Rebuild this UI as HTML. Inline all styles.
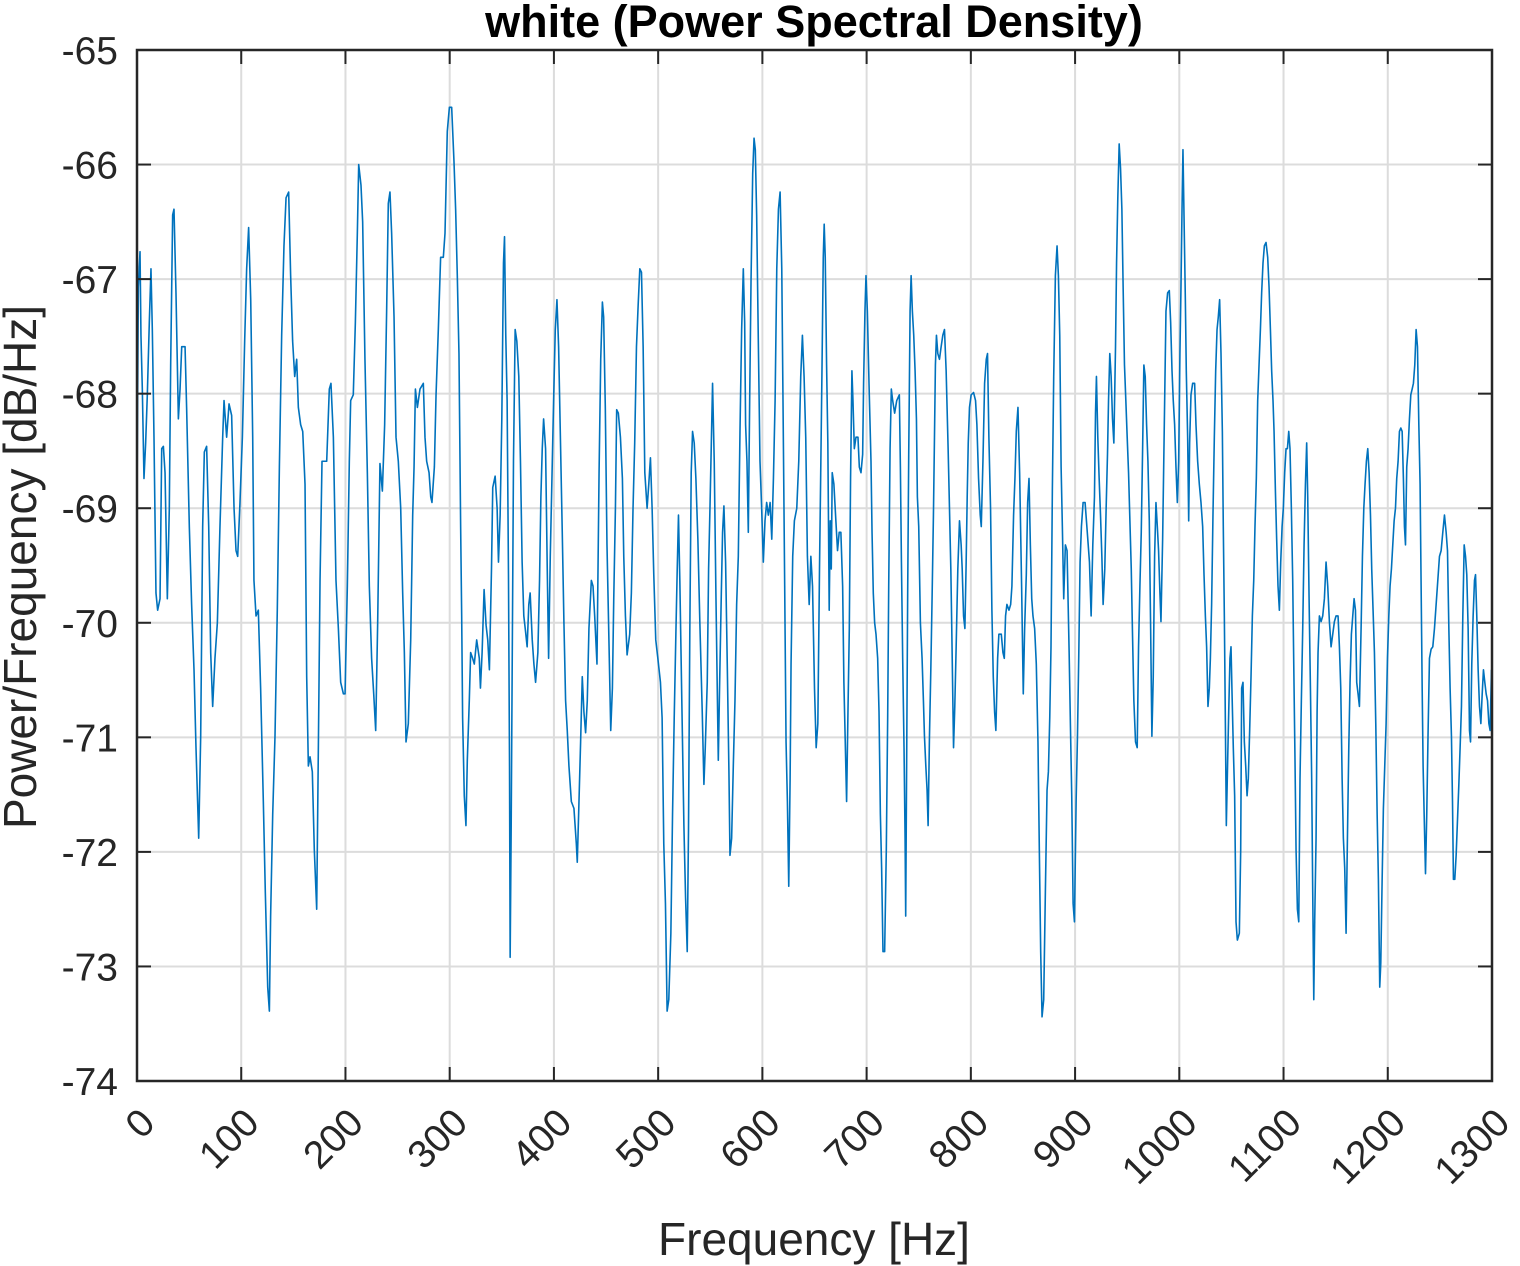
<!DOCTYPE html>
<html><head><meta charset="utf-8">
<style>
html,body{margin:0;padding:0;background:#fff;}
svg{display:block;font-family:"Liberation Sans",Arial,sans-serif;}
</style></head>
<body>
<svg id="chart" width="1520" height="1266" viewBox="0 0 1520 1266" xmlns="http://www.w3.org/2000/svg">
<rect width="1520" height="1266" fill="#fff"/>
<g id="grid"></g>
<g id="series"></g>
<g id="axes"></g>
<text x="814" y="37" text-anchor="middle" font-size="45" font-weight="bold" fill="#000">white (Power Spectral Density)</text>
<text x="814" y="1255" text-anchor="middle" font-size="46" fill="#262626">Frequency [Hz]</text>
<text transform="translate(36,567) rotate(-90)" text-anchor="middle" font-size="46" fill="#262626">Power/Frequency [dB/Hz]</text>
</svg>
<script>
const xTicks=[0,100,200,300,400,500,600,700,800,900,1000,1100,1200,1300];
const yTicks=[-65,-66,-67,-68,-69,-70,-71,-72,-73,-74];
const freq=[0,1.3,2.9,3.8,5.1,6.7,8.3,9.9,11.8,13.4,14.7,16.3,18.2,19.8,22.1,23.7,25.3,26.9,29.1,31.0,32.3,34.2,35.5,37.4,39.7,41.3,42.9,46.1,47.6,50.2,52.4,54.7,56.6,59.2,61.1,63.0,64.6,66.8,68.8,70.7,72.6,74.8,77.1,79.6,82.2,83.5,86.0,88.3,90.8,93.1,95.0,96.6,98.8,101.1,103.3,105.2,107.1,109.1,111.0,112.2,114.2,116.4,118.6,121.2,123.1,125.4,127.0,128.2,130.2,132.4,134.6,136.6,138.8,141.0,143.0,145.5,147.4,149.3,151.3,153.2,154.8,157.0,159.0,161.2,162.8,164.4,166.0,168.2,170.1,172.4,174.0,175.6,177.5,182.0,184.5,186.1,188.4,190.9,193.2,195.4,198.0,199.6,201.8,203.7,205.0,207.5,209.5,211.4,212.7,214.9,216.5,218.7,221.0,222.9,225.1,227.1,229.0,230.9,233.1,235.4,237.6,239.5,241.1,242.7,244.3,246.6,248.5,250.7,253.0,254.9,256.5,258.1,260.3,262.6,264.5,265.8,267.1,269.0,271.5,274.7,276.3,277.9,280.2,281.8,283.0,285.3,286.9,289.1,291.3,293.9,295.5,297.7,299.7,301.9,304.1,305.7,307.3,308.9,310.5,311.5,312.4,314.0,315.6,316.9,318.8,320.1,322.0,323.6,325.9,328.4,
329.5,331.1,333.0,334.9,336.5,338.1,340.1,341.3,343.6,345.5,346.8,348.4,350.0,351.6,352.6,353.8,355.1,356.4,357.4,358.0,359.0,359.9,361.2,362.8,364.4,366.3,367.9,369.5,371.1,372.7,374.3,375.9,377.2,379.2,380.8,382.4,384.6,386.2,387.5,388.8,390.1,392.0,393.6,394.9,396.5,398.1,399.7,401.3,402.9,404.5,406.1,408.0,409.6,411.2,412.8,414.4,416.7,419.2,421.5,422.4,423.7,425.6,427.2,428.8,430.4,432.0,433.6,435.9,437.5,439.1,441.3,443.3,444.9,446.5,447.7,449.3,450.9,452.9,454.5,456.1,457.4,459.0,460.2,461.8,463.8,465.7,467.0,468.6,470.2,472.7,474.3,475.9,477.5,479.2,480.8,482.4,484.0,485.6,487.2,489.4,491.0,492.6,494.2,495.8,497.7,499.7,502.2,503.8,505.4,507.0,508.6,510.2,512.2,513.8,515.4,517.0,518.3,519.5,520.8,522.7,524.7,526.3,527.9,529.1,530.4,531.7,533.0,534.6,536.2,538.1,540.0,542.3,543.9,545.2,547.1,548.4,549.7,550.9,552.2,553.8,555.4,556.7,557.7,558.9,560.6,561.8,563.1,564.7,566.3,567.9,568.9,570.5,572.1,573.7,575.3,576.9,578.5,580.1,581.7,583.0,583.9,585.2,586.5,587.8,589.1,590.7,592.0,593.2,594.5,596.1,597.7,599.3,600.9,602.5,604.1,605.7,607.4,609.0,610.6,612.2,613.8,615.4,617.0,618.6,620.2,621.4,622.7,624.0,625.3,626.6,627.5,629.1,630.7,633.0,634.9,636.8,638.4,640.0,641.6,643.2,644.9,646.5,648.1,650.0,651.6,653.2,654.8,
656.1,657.1,658.4,659.3,660.3,661.6,662.8,664.1,665.1,666.1,667.0,668.6,670.5,672.1,673.7,675.3,677.0,678.2,679.5,680.8,682.1,683.4,684.6,685.9,686.9,688.2,689.8,691.7,693.0,694.6,696.2,697.1,698.4,699.4,700.7,702.3,704.2,705.2,706.4,707.7,709.0,710.6,711.9,713.2,714.4,715.7,717.3,718.9,720.2,721.2,722.5,723.7,725.0,726.9,728.9,731.4,732.4,733.4,734.6,735.9,736.9,737.5,738.5,739.4,740.4,741.7,742.7,743.9,745.2,746.5,747.8,748.7,750.0,751.6,753.2,754.5,755.5,756.8,758.0,759.0,760.3,761.6,762.8,764.1,765.1,766.0,767.0,768.3,769.9,771.5,773.1,774.7,776.3,778.2,779.5,780.8,781.7,783.4,784.6,785.9,787.5,789.1,790.7,791.7,793.0,794.3,795.5,796.5,797.5,798.7,800.3,802.6,804.5,805.8,807.4,809.0,810.0,811.6,813.2,814.8,816.0,817.3,818.9,820.2,821.5,822.8,824.0,825.7,826.9,829.2,830.8,832.1,833.3,834.6,836.6,838.2,839.4,841.0,842.3,843.6,845.2,846.8,848.7,850.3,851.6,853.2,854.5,855.8,857.1,858.4,859.6,861.2,862.8,864.4,865.7,867.0,868.3,869.9,871.5,873.1,874.4,875.7,876.9,878.2,879.5,881.1,882.7,884.0,885.3,886.6,887.8,889.1,890.7,892.3,894.3,895.5,896.8,898.1,899.4,901.0,902.3,903.5,904.8,906.1,907.7,909.6,910.9,912.2,913.8,915.4,917.0,918.6,919.6,920.5,921.8,923.1,924.4,925.7,926.9,928.5,929.8,931.1,932.1,933.3,934.6,935.9,937.2,938.8,939.8,941.0,942.3,943.6,944.9,946.1,947.4,948.7,950.0,951.3,952.6,953.9,955.1,956.4,958.0,959.6,960.9,962.2,963.5,964.8,966.0,967.3,968.6,969.9,971.2,972.5,973.7,975.0,976.3,977.6,978.9,980.1,981.4,
982.4,984.0,985.6,987.2,988.8,990.4,991.7,993.0,994.2,995.5,996.8,998.1,999.4,1000.6,1001.6,1002.6,1003.5,1004.5,1005.8,1006.7,1008.0,1009.0,1009.9,1011.2,1012.8,1014.7,1016.0,1017.6,1019.2,1020.8,1022.4,1023.7,1025.0,1026.2,1027.5,1028.8,1029.8,1031.0,1032.3,1033.6,1034.9,1036.2,1037.4,1038.7,1040.0,1041.3,1042.2,1043.2,1044.2,1045.1,1046.4,1047.4,1048.6,1049.6,1050.6,1051.8,1053.1,1054.4,1055.7,1057.6,1058.9,1059.8,1061.1,1062.4,1063.7,1065.0,1066.2,1067.5,1068.8,1070.1,1071.4,1072.6,1073.9,1075.2,1076.5,1077.8,1079.0,1080.3,1081.6,1083.2,1084.8,1086.1,1087.4,1088.6,1089.9,1090.9,1092.2,1093.4,1094.7,1096.0,1097.3,1098.6,1099.8,1101.1,1102.4,1103.7,1105.0,1106.2,1107.5,1108.8,1109.8,1111.0,1112.0,1113.3,1114.6,1115.8,1117.1,1118.4,1119.7,1121.0,1122.2,1123.2,1124.5,1125.8,1127.0,1128.0,1129.0,1129.9,1131.2,1132.2,1133.1,1134.4,1136.0,1137.6,1139.2,1140.8,1142.4,1144.0,1145.6,1147.2,1148.8,1150.4,1152.3,1153.6,1154.9,1156.2,1157.4,1158.7,1160.0,1161.3,1162.6,1163.8,1165.1,1166.4,1167.7,1169.0,1170.2,1171.5,1172.8,1174.4,1175.7,1177.0,1178.2,1179.5,1180.8,1182.1,1183.4,1184.6,1185.9,1187.2,1188.5,1189.8,1191.0,1192.3,1193.3,1194.6,1195.8,1197.1,1198.4,1199.7,1201.0,1202.2,1203.5,1204.8,1206.1,1207.4,1208.6,1209.9,1211.2,1212.5,1213.8,1215.0,1216.0,1217.0,1218.2,1219.5,1220.8,1222.1,1223.4,1224.6,1225.9,1227.2,1228.5,1229.8,1231.0,1232.0,1233.0,1233.9,1234.9,1236.2,1237.4,1238.7,1240.0,1241.6,1243.2,1244.8,1246.4,1248.0,1249.6,1251.2,1252.8,1254.4,1256.0,1257.3,1258.6,1259.8,1261.1,1262.1,1263.0,1264.3,1265.6,1266.9,1268.2,1269.4,1270.7,1272.0,1273.3,1274.6,1275.8,1277.1,1278.4,1279.4,1280.6,1281.9,1283.2,1284.2,1285.4,1286.7,1288.0,1289.3,1290.6,1291.8,1293.1,1294.4,1295.7,1297.0,1298.2,1299.5];
const power=[-68.95,-67.07,-66.76,-67.49,-67.96,-68.74,-68.43,-68.01,-67.38,-66.91,-67.44,-68.38,-69.74,-69.89,-69.79,-68.48,-68.46,-68.69,-69.79,-69.00,-67.75,-66.44,-66.39,-67.12,-68.22,-67.96,-67.59,-67.59,-68.12,-69.16,-69.84,-70.41,-71.09,-71.88,-70.99,-69.16,-68.51,-68.46,-69.16,-70.26,-70.73,-70.31,-70.00,-69.16,-68.38,-68.06,-68.38,-68.09,-68.19,-69.00,-69.37,-69.42,-68.95,-68.38,-67.54,-66.91,-66.55,-67.18,-68.38,-69.63,-69.94,-69.89,-70.57,-71.56,-72.35,-73.18,-73.39,-72.56,-71.67,-70.99,-69.89,-68.64,-67.49,-66.71,-66.29,-66.24,-66.97,-67.54,-67.85,-67.70,-68.12,-68.27,-68.33,-68.79,-70.47,-71.25,-71.17,-71.30,-71.98,-72.50,-71.09,-69.63,-68.59,-68.59,-67.96,-67.91,-68.38,-69.63,-70.05,-70.52,-70.62,-70.62,-69.68,-68.59,-68.06,-68.01,-67.38,-66.60,-66.00,-66.18,-66.50,-67.70,-68.69,-69.68,-70.31,-70.62,-70.94,-70.00,-68.61,-68.85,-68.27,-67.28,-66.34,-66.24,-66.60,-67.33,-68.38,-68.59,-69.00,-69.74,-70.26,-71.04,-70.88,-70.15,-69.06,-68.64,-67.96,-68.12,-67.96,-67.91,-68.38,-68.59,-68.69,-68.90,-68.95,-68.64,-68.01,-67.44,-66.81,-66.81,-66.60,-65.71,-65.50,-65.50,-65.97,-66.39,-66.97,-67.65,-69.16,-69.94,-70.83,-71.51,-71.77,-71.20,-70.68,-70.26,-70.31,-70.36,-70.15,-70.31,
-70.57,-70.26,-69.71,-70.02,-70.15,-70.41,-69.53,-68.82,-68.72,-69.00,-69.47,-69.06,-68.22,-66.86,-66.63,-67.49,-68.06,-69.58,-71.25,-72.92,-71.77,-70.47,-68.59,-67.44,-67.54,-67.85,-68.59,-69.47,-69.94,-70.07,-70.21,-69.84,-69.74,-70.15,-70.36,-70.52,-70.26,-69.63,-68.90,-68.48,-68.22,-68.48,-69.53,-70.31,-69.42,-68.74,-68.06,-67.44,-67.18,-67.59,-68.33,-69.21,-70.00,-70.68,-70.94,-71.25,-71.56,-71.62,-71.93,-72.09,-71.67,-71.04,-70.47,-70.78,-70.96,-70.68,-70.05,-69.63,-69.68,-69.94,-70.36,-68.69,-67.70,-67.20,-67.33,-68.12,-69.32,-70.21,-70.94,-70.57,-69.79,-69.00,-68.14,-68.17,-68.38,-68.74,-69.42,-69.94,-70.28,-70.10,-69.74,-69.00,-68.43,-67.59,-67.23,-66.91,-66.94,-67.59,-68.69,-69.00,-68.79,-68.56,-69.00,-69.58,-70.15,-70.31,-70.52,-70.83,-71.93,-72.45,-73.39,-73.29,-72.71,-71.67,-70.83,-70.10,-69.53,-69.06,-69.63,-70.68,-71.77,-72.40,-72.87,-71.82,-70.05,-68.69,-68.33,-68.43,-68.74,-69.27,-70.00,-70.78,-71.41,-71.09,-70.52,-69.53,-69.00,-68.48,-67.91,-68.59,-69.74,-70.57,-71.20,-70.57,-69.74,-69.21,-68.98,-69.47,-70.36,-71.30,-72.03,-71.88,-71.25,-70.68,-69.84,-69.42,-68.33,-67.44,-66.91,-67.38,-68.27,-68.59,-69.21,-68.06,-67.02,-66.08,-65.77,-65.87,-66.44,-67.54,-68.59,-69.00,-69.47,-69.11,-68.95,-69.06,-68.95,-69.27,-68.74,-68.06,-66.91,-66.39,-66.24,-66.91,-68.48,-69.68,-71.04,-71.56,-72.30,-71.36,-70.36,-69.42,-69.11,-69.00,-68.59,-67.85,-67.49,-67.85,-68.38,-69.42,-69.84,-69.42,-69.68,-70.57,-71.09,-70.88,-69.53,
-68.59,-67.85,-66.81,-66.52,-66.81,-67.75,-68.43,-69.89,-69.11,-69.53,-68.69,-68.79,-69.11,-69.37,-69.21,-69.21,-69.68,-70.52,-71.04,-71.56,-70.78,-70.05,-68.74,-67.80,-68.06,-68.48,-68.38,-68.38,-68.64,-68.69,-68.53,-67.91,-67.28,-66.97,-67.28,-67.91,-68.59,-69.21,-69.74,-70.00,-70.10,-70.31,-70.78,-71.67,-72.14,-72.87,-72.87,-71.98,-70.83,-69.68,-68.48,-67.96,-68.06,-68.17,-68.06,-68.01,-68.64,-69.47,-70.31,-71.09,-71.88,-72.56,-71.09,-69.74,-68.53,-67.28,-66.97,-67.28,-67.49,-67.80,-68.22,-68.90,-69.16,-70.00,-70.31,-70.68,-70.99,-71.25,-71.46,-71.77,-70.99,-70.41,-69.79,-69.06,-68.38,-67.75,-67.49,-67.65,-67.70,-67.59,-67.49,-67.44,-67.80,-68.48,-69.00,-69.53,-70.05,-71.09,-70.73,-70.21,-69.53,-69.11,-69.32,-69.53,-69.94,-70.05,-69.47,-68.90,-68.43,-68.12,-68.01,-67.99,-68.06,-68.27,-68.74,-69.06,-69.16,-68.59,-67.91,-67.70,-67.65,-68.38,-69.00,-69.89,-70.47,-70.78,-70.94,-70.31,-70.10,-70.10,-70.26,-70.31,-69.94,-69.84,-69.89,-69.84,-69.68,-69.06,-68.74,-68.33,-68.12,-68.69,-69.68,-70.62,-70.05,-69.58,-68.95,-68.74,-69.32,-69.79,-69.94,-70.05,-70.36,-71.04,-71.98,-72.87,-73.44,-73.29,-72.35,-71.46,-71.30,-70.83,-70.21,-68.85,-67.85,-66.97,-66.71,-66.97,-67.49,-68.64,-69.16,-69.79,-69.32,-69.37,-70.26,-70.88,-71.51,-72.45,-72.61,-71.56,-70.99,-70.31,-69.47,-69.16,-68.95,-68.95,-69.11,-69.27,-69.47,-69.94,-69.32,-68.90,-68.17,-67.85,-68.38,-68.74,-69.06,-69.42,-69.84,-69.53,-69.00,-68.53,-68.06,-67.65,-67.85,-68.22,-68.43,-67.59,-66.86,-66.29,-65.82,-66.03,-66.39,-67.07,-67.75,-68.06,-68.38,-68.69,-69.11,-69.53,-70.10,-70.68,-71.04,-71.09,-70.21,-69.68,-69.21,-68.48,-67.75,-67.85,-68.27,-68.59,-69.11,-70.05,-70.99,-70.47,-69.42,-68.95,-69.16,-69.37,-69.74,
-69.99,-69.27,-68.27,-67.28,-67.12,-67.10,-67.38,-67.80,-68.06,-68.27,-68.64,-68.95,-68.59,-67.65,-67.07,-66.39,-65.87,-66.44,-67.18,-67.80,-68.38,-69.11,-68.43,-68.01,-67.91,-67.91,-68.27,-68.59,-68.79,-68.95,-69.16,-69.58,-69.94,-70.21,-70.73,-70.57,-70.31,-69.84,-69.06,-68.38,-67.80,-67.44,-67.33,-67.18,-67.65,-68.33,-69.16,-69.94,-70.88,-71.77,-71.20,-70.78,-70.31,-70.21,-70.62,-71.09,-71.51,-72.61,-72.77,-72.71,-71.98,-70.57,-70.52,-71.04,-71.25,-71.51,-71.36,-70.94,-70.47,-69.94,-69.63,-69.16,-68.74,-68.06,-67.75,-67.44,-67.12,-66.86,-66.71,-66.68,-66.81,-67.07,-67.44,-67.80,-68.06,-68.33,-68.85,-69.27,-69.68,-69.89,-69.47,-69.16,-69.00,-68.69,-68.48,-68.48,-68.33,-68.48,-69.00,-69.63,-70.36,-71.20,-71.98,-72.50,-72.61,-71.36,-70.68,-70.05,-69.32,-68.79,-68.43,-68.90,-69.79,-70.57,-71.36,-72.35,-73.29,-72.61,-71.88,-70.78,-70.26,-69.94,-69.99,-69.94,-69.79,-69.47,-69.68,-69.99,-70.21,-70.10,-69.99,-69.94,-69.94,-70.21,-70.57,-71.36,-71.88,-72.14,-72.71,-71.88,-71.09,-70.52,-70.10,-69.94,-69.79,-69.89,-70.52,-70.62,-70.73,-70.05,-69.42,-69.00,-68.79,-68.59,-68.48,-68.69,-69.06,-69.53,-69.89,-70.26,-70.88,-71.67,-72.24,-73.18,-72.97,-72.24,-71.62,-71.25,-70.88,-70.31,-69.94,-69.68,-69.53,-69.32,-69.11,-69.00,-68.74,-68.59,-68.33,-68.30,-68.33,-68.74,-69.16,-69.32,-68.64,-68.48,-68.22,-68.01,-67.96,-67.91,-67.75,-67.44,-67.59,-68.27,-68.79,-69.68,-70.57,-71.25,-71.67,-72.19,-71.67,-70.94,-70.31,-70.23,-70.21,-70.05,-69.84,-69.63,-69.42,-69.37,-69.21,-69.06,-69.21,-69.37,-70.05,-70.57,-70.99,-71.56,-72.24,-72.24,-72.03,-71.72,-71.41,-71.09,-70.73,-69.94,-69.32,-69.42,-69.58,-70.05,-70.94,-71.04,-70.36,-69.94,-69.63,-69.58,-69.94,-70.41,-70.73,-70.88,-70.62,-70.41,-70.52,-70.62,-70.68,-70.88,-70.94,-70.41];

const NS='http://www.w3.org/2000/svg';
const X0=137,X1=1492,Y0=50,Y1=1081;
const xMin=0,xMax=1300,yMin=-74,yMax=-65;
function xs(v){return X0+(v-xMin)/(xMax-xMin)*(X1-X0);}
function ys(v){return Y1-(v-yMin)/(yMax-yMin)*(Y1-Y0);}
function mk(tag,attrs,parent){const e=document.createElementNS(NS,tag);for(const k in attrs)e.setAttribute(k,attrs[k]);parent.appendChild(e);return e;}
const grid=document.getElementById('grid'),axes=document.getElementById('axes'),series=document.getElementById('series');

xTicks.forEach(t=>{
  const x=xs(t);
  if(t>xMin&&t<xMax){
    const g=mk('line',{x1:x,x2:x,y1:Y0,y2:Y1,stroke:'#dcdcdc','stroke-width':2},grid);
    
    
  }
  const tk=mk('line',{x1:x,x2:x,y1:Y1,y2:Y1-14,stroke:'#262626','stroke-width':2},axes);
  
  
  const tk2=mk('line',{x1:x,x2:x,y1:Y0,y2:Y0+14,stroke:'#262626','stroke-width':2},axes);
  
  
  const lb=mk('text',{transform:`translate(${x+20},${Y1+44}) rotate(-45)`,'text-anchor':'end','font-size':39,fill:'#262626'},axes);
  lb.textContent=String(t);
  
  
});
yTicks.forEach(t=>{
  const y=ys(t);
  if(t>yMin&&t<yMax){
    const g=mk('line',{x1:X0,x2:X1,y1:y,y2:y,stroke:'#dcdcdc','stroke-width':2},grid);
    
    
  }
  const tk=mk('line',{x1:X0,x2:X0+14,y1:y,y2:y,stroke:'#262626','stroke-width':2},axes);
  
  
  const tk2=mk('line',{x1:X1,x2:X1-14,y1:y,y2:y,stroke:'#262626','stroke-width':2},axes);
  
  
  const lb=mk('text',{x:X0-19,y:y+14,'text-anchor':'end','font-size':39,fill:'#262626'},axes);
  lb.textContent=String(t);
  
  
});
const box=mk('rect',{x:X0,y:Y0,width:X1-X0,height:Y1-Y0,fill:'none',stroke:'#262626','stroke-width':2.5},axes);



let d='';
const n=Math.min(freq.length,power.length);
for(let i=0;i<n;i++){d+=(i?'L':'M')+xs(freq[i]).toFixed(2)+','+ys(power[i]).toFixed(2);}
const line=mk('path',{d:d,fill:'none',stroke:'#0072BD','stroke-width':1.6,'stroke-linejoin':'round'},series);


</script>
</body></html>
